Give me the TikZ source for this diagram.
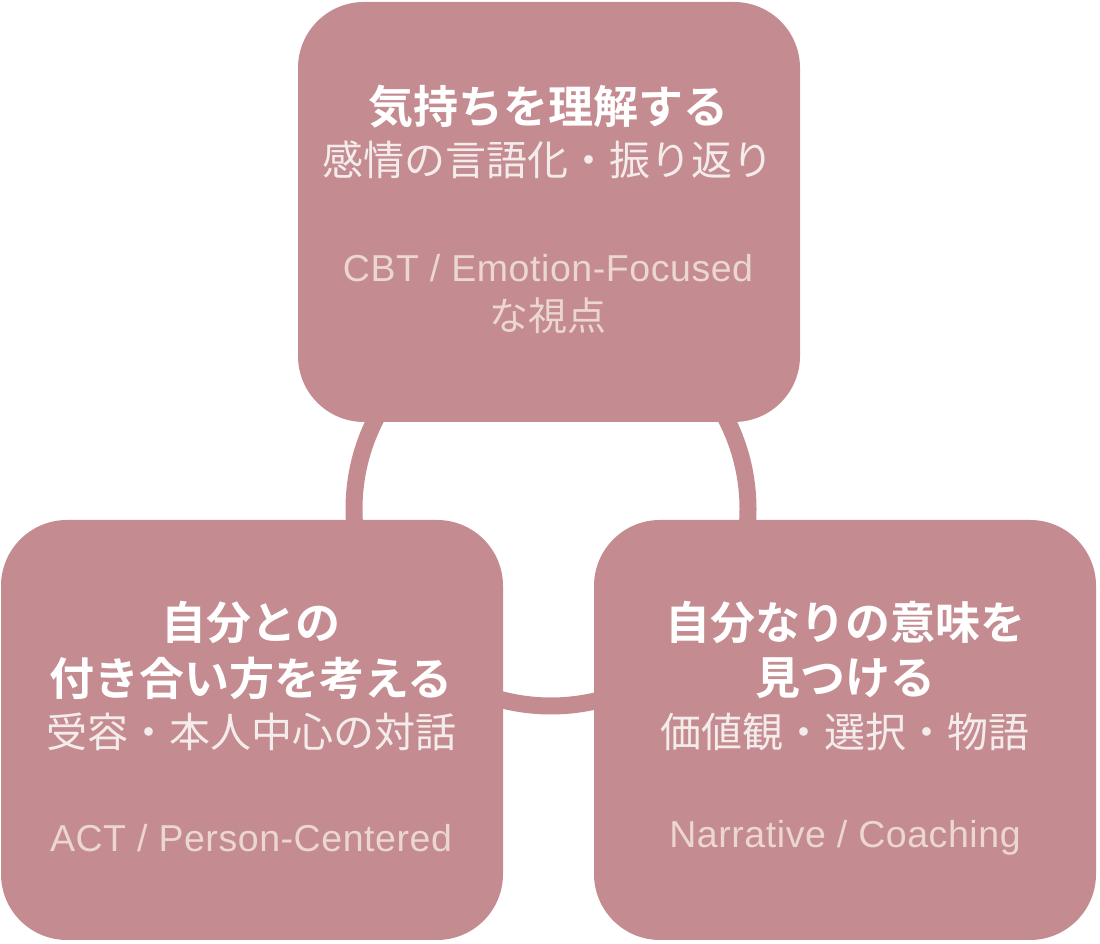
\documentclass[tikz,border=0pt]{standalone}
\usepackage{fontspec}
\setmainfont{Noto Sans CJK JP}[BoldFont={Noto Sans CJK JP Bold}]
\newfontfamily\lateinisch{Liberation Sans}[LetterSpace=1.5]
\definecolor{rosa}{HTML}{C48B91}
\definecolor{hell}{HTML}{F4ECEA}
\definecolor{blass}{HTML}{EBD6D0}
\tikzset{
    feld/.style = {fill = rosa, draw = none, rounded corners = 66pt,
        minimum width = 502pt, minimum height = 420pt},
    titel/.style = {text = white, font = \fontsize{45}{55}\selectfont\bfseries,
        inner sep = 0pt},
    unter/.style = {text = hell, font = \fontsize{41}{48}\selectfont,
        inner sep = 0pt},
    quelle/.style = {text = blass, font = \fontsize{37.5}{48}\selectfont\lateinisch,
        inner sep = 0pt},
    zusatz/.style = {text = blass, font = \fontsize{39}{48}\selectfont,
        inner sep = 0pt}
}
\begin{document}
\begin{tikzpicture}[x = 1pt, y = 1pt]
        \useasboundingbox (0, 0) rectangle (1100, 944);

        % Ring
        \coordinate (mitte) at (551, 435);
        \draw [rosa, line width = 17pt] (mitte) circle (197);

        % oben
        \node [feld] (oben) at (549, 732) {};
        \node [titel] (obenT) at (548, 837) {気持ちを理解する};
        \node [unter] (obenU) at (548, 784) {感情の言語化・振り返り};
        \node [quelle] (obenQ) at (548, 676) {CBT / Emotion-Focused};
        \node [zusatz] (obenQ2) at (548, 628) {な視点};

        % links
        \node [feld] (links) at (252, 214) {};
        \node [titel] (linksT) at (251, 321) {自分との};
        \node [titel] (linksT2) at (251, 266) {付き合い方を考える};
        \node [unter] (linksU) at (251, 212) {受容・本人中心の対話};
        \node [quelle] (linksQ) at (251, 106) {ACT / Person-Centered};

        % rechts
        \node [feld] (rechts) at (845, 214) {};
        \node [titel] (rechtsT) at (845, 321) {自分なりの意味を};
        \node [titel] (rechtsT2) at (845, 266) {見つける};
        \node [unter] (rechtsU) at (845, 212) {価値観・選択・物語};
        \node [quelle] (rechtsQ) at (845, 106) {Narrative / Coaching};
    \end{tikzpicture}
\end{document}
